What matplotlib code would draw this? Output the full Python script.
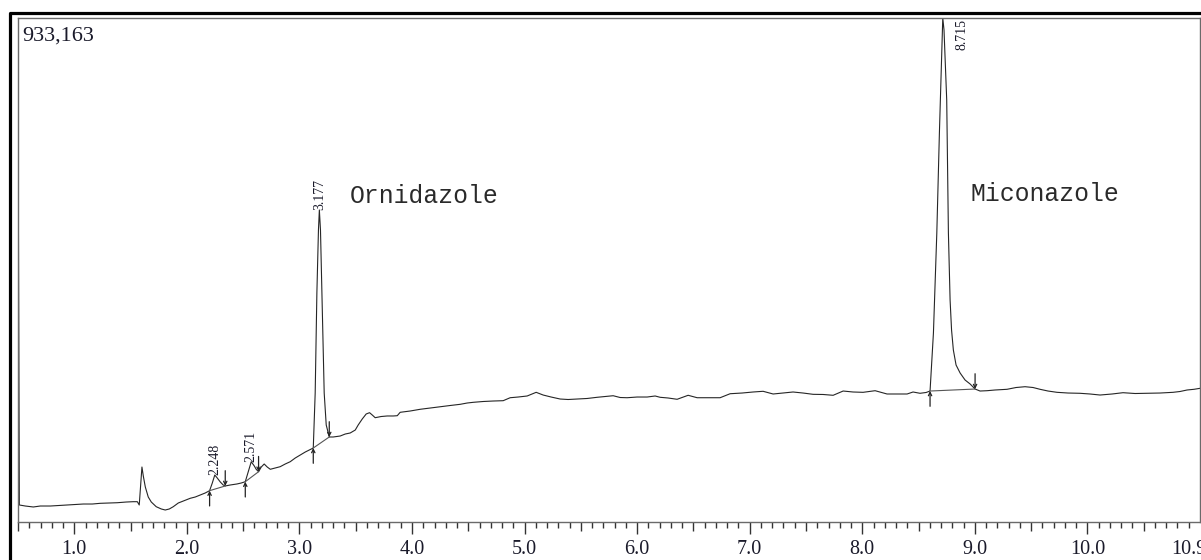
import numpy as np
import matplotlib
matplotlib.use('Agg')
import matplotlib.pyplot as plt
from matplotlib.lines import Line2D

# chromatogram trace: time (min), signal (uV)
time = [0.503, 0.512, 0.565, 0.636, 0.698, 0.787, 0.858, 0.938, 1.009, 1.080,
        1.160, 1.231, 1.302, 1.382, 1.462, 1.524, 1.560, 1.577, 1.601, 1.613,
        1.631, 1.657, 1.684, 1.728, 1.773, 1.808, 1.844, 1.879, 1.924, 1.959,
        1.995, 2.030, 2.075, 2.119, 2.163, 2.202, 2.226, 2.248, 2.270, 2.297,
        2.323, 2.341, 2.385, 2.445, 2.483, 2.519, 2.545, 2.572, 2.599, 2.616,
        2.637, 2.661, 2.687, 2.714, 2.741, 2.785, 2.829, 2.874, 2.918, 2.963,
        3.007, 3.052, 3.087, 3.123, 3.140, 3.155, 3.169, 3.177, 3.187, 3.200,
        3.220, 3.238, 3.265, 3.300, 3.362, 3.407, 3.451, 3.496, 3.522, 3.558,
        3.593, 3.623, 3.647, 3.673, 3.726, 3.780, 3.833, 3.869, 3.895, 3.984,
        4.073, 4.162, 4.250, 4.339, 4.428, 4.490, 4.544, 4.632, 4.721, 4.810,
        4.872, 4.943, 5.023, 5.103, 5.165, 5.236, 5.316, 5.387, 5.467, 5.556,
        5.645, 5.716, 5.787, 5.849, 5.911, 6.000, 6.089, 6.160, 6.204, 6.275,
        6.355, 6.453, 6.533, 6.631, 6.737, 6.826, 6.932, 7.030, 7.119, 7.208,
        7.297, 7.385, 7.474, 7.563, 7.652, 7.741, 7.830, 7.918, 8.007, 8.114,
        8.220, 8.309, 8.398, 8.451, 8.513, 8.567, 8.602, 8.632, 8.662, 8.685,
        8.706, 8.715, 8.726, 8.750, 8.765, 8.780, 8.793, 8.809, 8.833, 8.869,
        8.913, 8.958, 9.002, 9.046, 9.108, 9.179, 9.286, 9.366, 9.446, 9.517,
        9.579, 9.650, 9.730, 9.828, 9.934, 10.023, 10.112, 10.219, 10.316, 10.423,
        10.529, 10.645, 10.760, 10.822, 10.885, 10.947, 11.000]
signal = [596200, 31500, 29600, 27800, 29600, 29600, 30550, 31500, 32400, 33300,
          33300, 34600, 35200, 35700, 37000, 37600, 37600, 31500, 101800, 85200,
          64800, 46300, 37000, 28300, 24100, 22200, 24100, 28300, 35200, 38000,
          40700, 43900, 46300, 50000, 53700, 58000, 72200, 87000, 81500, 74100,
          68500, 66700, 68500, 70400, 72200, 74600, 92600, 111600, 103700, 97600,
          93100, 101800, 107400, 101800, 97600, 100000, 102400, 107400, 111600, 118500,
          124100, 129600, 133300, 137000, 238800, 424000, 540600, 577700, 540600, 424000,
          238800, 179600, 157400, 157400, 159200, 162900, 164800, 170300, 179600, 190700,
          200000, 202400, 198100, 193100, 195300, 196300, 196300, 196800, 203100, 205500,
          208700, 211100, 213500, 215700, 217900, 220300, 221600, 223100, 224000, 224600,
          230100, 231400, 233300, 240100, 235100, 231400, 227700, 226800, 227700, 228700,
          230900, 232400, 233800, 230500, 230100, 231400, 231400, 233300, 230900, 229600,
          227200, 234600, 230100, 230100, 230100, 237500, 238800, 240700, 242000, 237000,
          238800, 240700, 238800, 236400, 236100, 234600, 242500, 240700, 240100, 243100,
          237000, 237000, 237000, 240700, 238300, 239800, 242500, 349900, 535100, 720200,
          873900, 933163, 910900, 781300, 535100, 411000, 355500, 318500, 290700, 275900,
          262900, 255500, 246200, 242500, 243100, 244400, 245700, 249000, 250500, 249000,
          245700, 242500, 240100, 238800, 238300, 237000, 235100, 237000, 239400, 237900,
          238300, 238800, 240100, 241600, 244400, 245700, 247500]

# integration marks: peak start / end points
start_t = [2.202, 2.519, 3.123, 8.602]
start_v = [58000, 74600, 137000, 242500]
end_t = [2.341, 2.637, 3.265, 9.002]
end_v = [66700, 93100, 157400, 246200]

# retention time labels
rt_labels = ['2.248', '2.571', '3.177', '8.715']
rt_x = [2.248, 2.572, 3.177, 8.886]
rt_y = [87000, 111600, 577700, 873900]

names = ['Ornidazole', 'Miconazole']
name_x = [3.451, 8.957]
name_y = [603600, 607300]

full_scale = 933163

serif = ['Liberation Serif', 'DejaVu Serif']
mono = ['Liberation Mono', 'DejaVu Sans Mono']

fig = plt.figure(figsize=(12.01, 5.6), dpi=100)
ax = fig.add_axes([18 / 1201, 38 / 560, 1182 / 1201, 504 / 560])

ax.plot(time, signal, color='#262626', lw=0.8)

# baseline segments and arrows
for i in range(len(start_t)):
    ax.plot([start_t[i], end_t[i]], [start_v[i], end_v[i]], color='#555555', lw=0.8)
    ax.annotate('', xy=(start_t[i], start_v[i]), xytext=(0, -11), textcoords='offset points',
                arrowprops=dict(arrowstyle='->', lw=0.9, color='#222222',
                                shrinkA=0, shrinkB=0, mutation_scale=6))
    ax.annotate('', xy=(end_t[i], end_v[i]), xytext=(0, 11), textcoords='offset points',
                arrowprops=dict(arrowstyle='->', lw=0.9, color='#222222',
                                shrinkA=0, shrinkB=0, mutation_scale=6))

for lab, x, y in zip(rt_labels, rt_x, rt_y):
    ax.text(x, y, lab, rotation=90, ha='center', va='bottom', fontsize=10,
            family=serif, color='#1a1a2a')

for lab, x, y in zip(names, name_x, name_y):
    ax.text(x, y, lab, ha='left', va='center', fontsize=17.8, family=mono, color='#2a2a2a')

ax.text(0.0035, 0.964, '933,163', transform=ax.transAxes, ha='left', va='center',
        fontsize=16, family=serif, color='#1a1a2a')

ax.set_xlim(0.5, 11.0)
ax.set_ylim(0, full_scale)

# ticks: labelled integers, medium at halves, small every 0.1
major = [float(k) for k in range(1, 11)]
halves = [k + 0.5 for k in range(0, 11)]
ticks = major + halves + [10.9]
labels = ['%.1f' % k for k in major] + [''] * len(halves) + ['10.9']
ax.set_xticks(ticks)
ax.set_xticklabels(labels)
ax.set_xticks([round(v, 1) for v in np.arange(0.6, 11.0, 0.1)], minor=True)
ax.set_yticks([])
ax.tick_params(axis='x', which='major', direction='out', length=8.6, width=1,
               color='#333333', pad=4, labelsize=14.5)
ax.tick_params(axis='x', which='minor', direction='out', length=4.3, width=1, color='#333333')
for tick, pos in zip(ax.xaxis.get_major_ticks(), ticks):
    if pos == 10.9:
        tick.tick1line.set_markersize(4.3)
    elif pos % 1 != 0:
        tick.tick1line.set_markersize(6.5)
for lab in ax.get_xticklabels():
    lab.set_family(serif)
    lab.set_color('#1a1a2a')

for sp in ax.spines.values():
    sp.set_color('#6a6a6a')
    sp.set_linewidth(1)

# outer black frame (left and top)
fig.add_artist(Line2D([10 / 1201, 10 / 1201, 1.0], [0.0, 1 - 13 / 560, 1 - 13 / 560],
                      transform=fig.transFigure, color='black', lw=2.3))

fig.savefig('out.png', dpi=100)
